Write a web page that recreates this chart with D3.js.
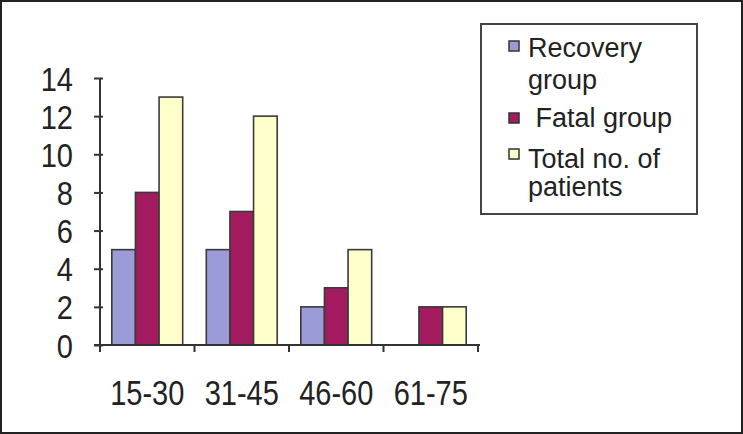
<!DOCTYPE html>
<html>
<head>
<meta charset="utf-8">
<script src="https://cdn.jsdelivr.net/npm/d3@7"></script>
<style>
html,body{margin:0;padding:0;background:#fff;}
svg{display:block;}
text{font-family:"Liberation Sans",Arial,sans-serif;fill:#222;}
</style>
</head>
<body>
<svg id="chart" width="743" height="434"></svg>
<script>
const categories = ["15-30", "31-45", "46-60", "61-75"];
const seriesNames = ["Recovery group", "Fatal group", "Total no. of patients"];
const recovery = [5, 5, 2, 0];
const fatal = [8, 7, 3, 2];
const total = [13, 12, 5, 2];
const yTicks = [0, 2, 4, 6, 8, 10, 12, 14];
const colors = ["#9b9bd8", "#a11b5e", "#ffffcc"];
const legendLines = [["Recovery", "group"], [" Fatal group"], ["Total no. of", "patients"]];

const series = [recovery, fatal, total];
const svg = d3.select("#chart");

// outer frame
svg.append("rect").attr("x", 1).attr("y", 1).attr("width", 741).attr("height", 432)
  .attr("fill", "#fff").attr("stroke", "#222").attr("stroke-width", 2);

const x0 = d3.scaleBand().domain(categories).range([100, 478]).paddingInner(0).paddingOuter(0);
const x1 = d3.scaleBand().domain(d3.range(series.length)).range([0, x0.bandwidth()]).paddingInner(0).paddingOuter(0.5);
const y = d3.scaleLinear().domain([0, 14]).range([345, 78]);

// bars
const g = svg.append("g");
categories.forEach((c, ci) => {
  series.forEach((s, si) => {
    if (s[ci] <= 0) return;
    g.append("rect")
      .attr("x", x0(c) + x1(si))
      .attr("y", y(s[ci]))
      .attr("width", x1.bandwidth())
      .attr("height", y(0) - y(s[ci]))
      .attr("fill", colors[si])
      .attr("stroke", "#3a3a3a")
      .attr("stroke-width", 1.6);
  });
});

// y axis
const yAxis = svg.append("g").attr("transform", "translate(100,0)")
  .call(d3.axisLeft(y).tickValues(yTicks).tickSize(6).tickPadding(0).tickFormat(d3.format("d")));
yAxis.select(".domain").attr("stroke", "#333").attr("stroke-width", 2).attr("d", `M0,${y(14)}V${y(0)}`);
yAxis.selectAll(".tick line").attr("stroke", "#333").attr("stroke-width", 2).attr("x1", 3).attr("x2", -6);
yAxis.selectAll(".tick text")
  .attr("x", 0).attr("y", 0).attr("dy", "0.36em")
  .attr("text-anchor", "end")
  .attr("font-size", 29)
  .attr("fill", "#222")
  .attr("transform", "translate(-27,0) scale(1,1.16)")
  .style("font-family", "'Liberation Sans', Arial, sans-serif");

// x axis
const xAxis = svg.append("g").attr("transform", `translate(0,${y(0)})`)
  .call(d3.axisBottom(x0).tickSize(0).tickFormat(""));
xAxis.select(".domain").attr("stroke", "#333").attr("stroke-width", 2).attr("d", "M94,0H480");
xAxis.selectAll(".tick line").remove();
const bounds = categories.map(c => x0(c)).concat([x0(categories[categories.length - 1]) + x0.bandwidth()]);
xAxis.selectAll(".bnd").data(bounds).enter().append("line")
  .attr("x1", d => d).attr("x2", d => d).attr("y1", 0).attr("y2", 7)
  .attr("stroke", "#333").attr("stroke-width", 2);
xAxis.selectAll(".xl").data(categories).enter().append("text")
  .attr("text-anchor", "middle")
  .attr("font-size", 29)
  .attr("fill", "#222")
  .attr("transform", d => `translate(${x0(d) + x0.bandwidth() / 2},60) scale(1,1.2)`)
  .text(d => d);

// legend
const lg = svg.append("g");
lg.append("rect").attr("x", 481).attr("y", 24).attr("width", 216).attr("height", 190)
  .attr("fill", "#fff").attr("stroke", "#444").attr("stroke-width", 2);
const markerY = [41, 113, 149];
const textBase = [[57, 89], [127], [168, 196]];
seriesNames.forEach((n, i) => {
  lg.append("rect").attr("x", 509).attr("y", markerY[i]).attr("width", 10).attr("height", 10)
    .attr("fill", colors[i]).attr("stroke", "#333").attr("stroke-width", 1.5);
  const t = lg.append("text").attr("font-size", 27).attr("fill", "#222").attr("xml:space", "preserve");
  legendLines[i].forEach((line, li) => {
    t.append("tspan").attr("x", 528).attr("y", textBase[i][li]).text(line);
  });
});
</script>
</body>
</html>
